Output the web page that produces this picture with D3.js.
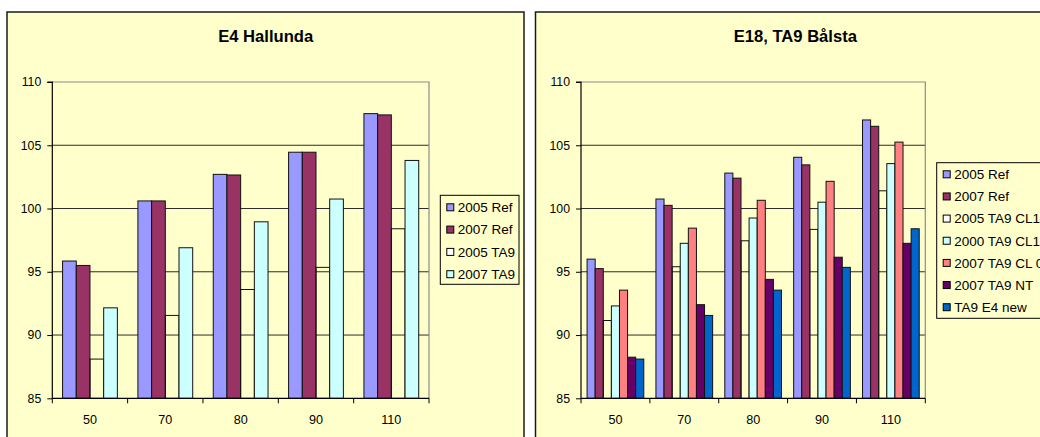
<!DOCTYPE html>
<html>
<head>
<meta charset="utf-8">
<script src="https://cdn.jsdelivr.net/npm/d3@7"></script>
<style>
  html, body { margin: 0; padding: 0; background: #ffffff; overflow: hidden; }
  svg { display: block; }
  text { font-family: "Liberation Sans", Arial, Helvetica, sans-serif; fill: #000; }
</style>
</head>
<body>
<svg id="chart" width="1040" height="437"></svg>
<script>
// Speed categories shared by both panels
const categories = ["50", "70", "80", "90", "110"];
const yTicks = [85, 90, 95, 100, 105, 110];

// E4 Hallunda
const hallundaNames = ["2005 Ref", "2007 Ref", "2005 TA9", "2007 TA9"];
const hallunda2005Ref = [95.85, 100.6, 102.7, 104.45, 107.5];
const hallunda2007Ref = [95.5, 100.6, 102.65, 104.45, 107.4];
const hallunda2005TA9 = [88.1, 91.55, 93.6, 95.35, 98.4];
const hallunda2007TA9 = [92.15, 96.9, 98.95, 100.75, 103.8];

// E18, TA9 Bålsta
const balstaNames = ["2005 Ref", "2007 Ref", "2005 TA9 CL100", "2000 TA9 CL100", "2007 TA9 CL 0", "2007 TA9 NT", "TA9 E4 new"];
const balsta2005Ref = [96.0, 100.75, 102.8, 104.05, 107.0];
const balsta2007Ref = [95.25, 100.25, 102.4, 103.45, 106.5];
const balsta2005CL = [91.15, 95.4, 97.45, 98.35, 101.4];
const balsta2000CL = [92.3, 97.25, 99.25, 100.5, 103.55];
const balsta2007CL = [93.55, 98.45, 100.65, 102.15, 105.25];
const balsta2007NT = [88.25, 92.4, 94.4, 96.15, 97.25];
const balstaE4new = [88.1, 91.55, 93.55, 95.35, 98.4];

const svg = d3.select("#chart");
const PANEL_BG = "#ffffcc";

function drawPanel(cfg) {
  const g = svg.append("g");

  // panel frame
  g.append("rect")
    .attr("x", cfg.frame[0]).attr("y", cfg.frame[1])
    .attr("width", cfg.frame[2]).attr("height", cfg.frame[3])
    .attr("fill", PANEL_BG).attr("stroke", "#1a1a1a").attr("stroke-width", 1.5);

  // title
  g.append("text")
    .attr("x", cfg.titleX).attr("y", 41.5)
    .attr("text-anchor", "middle")
    .style("font-weight", "bold").style("font-size", "16.6px")
    .text(cfg.title);

  const y = d3.scaleLinear().domain([85, 110]).range([398.3, 82]);
  const x = d3.scaleBand().domain(categories).range([cfg.left, cfg.right]).paddingInner(0).paddingOuter(0);

  const nSeries = cfg.series.length;
  const barW = x.step() / (nSeries + 1.5);
  const offset = barW * 0.75;

  // gridlines
  g.append("g").selectAll("line")
    .data(yTicks.filter(t => t > 85 && t < 110))
    .join("line")
    .attr("x1", cfg.left).attr("x2", cfg.right)
    .attr("y1", d => y(d)).attr("y2", d => y(d))
    .attr("stroke", "#2b2b2b").attr("stroke-width", 1);

  // plot area top and right border
  g.append("path")
    .attr("d", `M${cfg.left},${y(110)}H${cfg.right}V${y(85)}`)
    .attr("fill", "none").attr("stroke", "#8c8c8c").attr("stroke-width", 1.2);

  // bars
  cfg.series.forEach((s, si) => {
    g.append("g").selectAll("rect")
      .data(s.values)
      .join("rect")
      .attr("x", (d, i) => x(categories[i]) + offset + si * barW)
      .attr("y", d => y(d))
      .attr("width", barW)
      .attr("height", d => y(85) - y(d))
      .attr("fill", s.color)
      .attr("stroke", "#111")
      .attr("stroke-width", 1);
  });

  // y axis
  const yAxis = d3.axisLeft(y).tickValues(yTicks).tickSize(5).tickPadding(6).tickFormat(d3.format("d"));
  const ya = g.append("g").attr("transform", `translate(${cfg.left},0)`).call(yAxis);
  ya.select(".domain").attr("stroke", "#000").attr("stroke-width", 1.2).attr("d", `M-5,${y(110)}H0V${y(85)}`);
  ya.selectAll(".tick line").attr("stroke", "#000");
  ya.selectAll(".tick text").style("font-size", "12.3px").style("font-family", "'Liberation Sans', Arial, sans-serif").attr("fill", "#000");

  // x axis with ticks at category boundaries
  const xa = g.append("g").attr("transform", `translate(0,${y(85)})`);
  xa.append("line").attr("x1", cfg.left).attr("x2", cfg.right).attr("y1", 0).attr("y2", 0)
    .attr("stroke", "#000").attr("stroke-width", 1.2);
  const bounds = categories.map(c => x(c)).concat([cfg.right]);
  xa.selectAll("line.tk").data(bounds).join("line").attr("class", "tk")
    .attr("x1", d => d).attr("x2", d => d).attr("y1", 0).attr("y2", 5)
    .attr("stroke", "#000");
  xa.selectAll("text").data(categories).join("text")
    .attr("x", d => x(d) + x.bandwidth() / 2)
    .attr("y", 26)
    .attr("text-anchor", "middle")
    .style("font-size", "12.6px")
    .text(d => d);

  // legend
  const lg = g.append("g");
  lg.append("rect")
    .attr("x", cfg.legend.x).attr("y", cfg.legend.y)
    .attr("width", cfg.legend.w).attr("height", cfg.legend.h)
    .attr("fill", PANEL_BG).attr("stroke", "#000").attr("stroke-width", 1);
  cfg.series.forEach((s, si) => {
    const cy = cfg.legend.firstRow + si * cfg.legend.rowGap;
    lg.append("rect")
      .attr("x", cfg.legend.x + 6.5).attr("y", cy - 3.5)
      .attr("width", 7).attr("height", 7)
      .attr("fill", s.legendColor || s.color).attr("stroke", "#000").attr("stroke-width", 1);
    lg.append("text")
      .attr("x", cfg.legend.x + 17.5).attr("y", cy + 4.8)
      .style("font-size", "13.5px")
      .text(s.name);
  });
}

const hallundaColors = ["#9999ff", "#993366", "none", "#ccffff"];
const hallundaValues = [hallunda2005Ref, hallunda2007Ref, hallunda2005TA9, hallunda2007TA9];
drawPanel({
  frame: [7, 12, 517, 440],
  title: "E4 Hallunda",
  titleX: 265.7,
  left: 52.3, right: 429,
  series: hallundaNames.map((n, i) => ({
    name: n, values: hallundaValues[i], color: hallundaColors[i],
    legendColor: hallundaColors[i] === "none" ? "#ffffff" : null
  })),
  legend: { x: 440.3, y: 195.3, w: 78.7, h: 89, firstRow: 207.3, rowGap: 22.3 }
});

const balstaColors = ["#9999ff", "#993366", "none", "#ccffff", "#ff8080", "#660066", "#0066cc"];
const balstaValues = [balsta2005Ref, balsta2007Ref, balsta2005CL, balsta2000CL, balsta2007CL, balsta2007NT, balstaE4new];
drawPanel({
  frame: [535.5, 12, 520, 440],
  title: "E18, TA9 Bålsta",
  titleX: 795.3,
  left: 581, right: 925.3,
  series: balstaNames.map((n, i) => ({
    name: n, values: balstaValues[i], color: balstaColors[i],
    legendColor: balstaColors[i] === "none" ? "#ffffff" : null
  })),
  legend: { x: 936.7, y: 162.7, w: 120, h: 155.6, firstRow: 174.3, rowGap: 22.15 }
});
</script>
</body>
</html>
